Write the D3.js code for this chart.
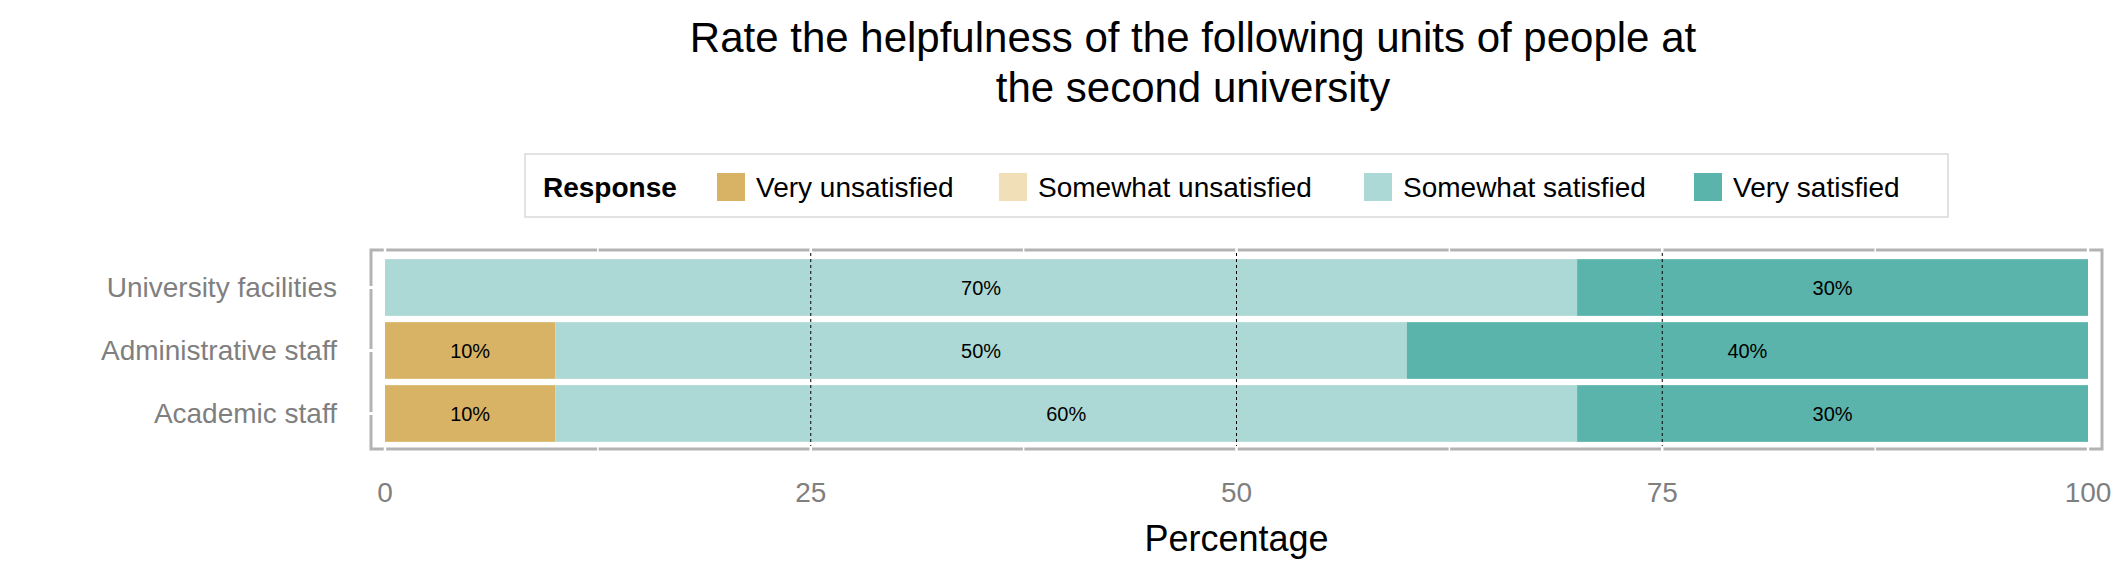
<!DOCTYPE html>
<html><head><meta charset="utf-8">
<script src="https://cdn.jsdelivr.net/npm/d3@7"></script>
<style>body{margin:0;background:#fff}text{font-family:"Liberation Sans",Arial,sans-serif}</style>
</head><body><div id="chart"></div>
<script>
const categories = ['University facilities', 'Administrative staff', 'Academic staff']
const responses = ['Very unsatisfied', 'Somewhat unsatisfied', 'Somewhat satisfied', 'Very satisfied']
const colors = ['#d8b365', '#f0dfb7', '#acd9d5', '#5ab4ac']
const veryUnsat = [0, 10, 10]
const somewhatUnsat = [0, 0, 0]
const somewhatSat = [70, 50, 60]
const verySat = [30, 40, 30]
const xTicks = [0, 25, 50, 75, 100]

const W = 2125, H = 578
const svg = d3.select('#chart').append('svg').attr('width', W).attr('height', H)

const series = [veryUnsat, somewhatUnsat, somewhatSat, verySat]
const rows = categories.map((c, i) => {
    const r = {cat: c}
    responses.forEach((k, j) => r[k] = series[j][i])
    return r
})
const stack = d3.stack().keys(responses)(rows)

const x = d3.scaleLinear().domain([0, 100]).range([385, 2088])
const y = d3.scaleBand().domain(categories).range([256, 445]).paddingInner(0.1).paddingOuter(0.05)

// Panel border
svg.append('rect').attr('x', 371).attr('y', 250).attr('width', 1731).attr('height', 199)
    .attr('fill', 'none').attr('stroke', '#b3b3b3').attr('stroke-width', 3)

// White grid (major + minor), breaks the border like ggplot
const grid = d3.range(0, 101, 12.5)
svg.selectAll('.grid').data(grid).join('line')
    .attr('x1', d => x(d)).attr('x2', d => x(d)).attr('y1', 246).attr('y2', 453)
    .attr('stroke', '#fff').attr('stroke-width', d => d % 25 === 0 ? 2.5 : 1.5)
categories.forEach(c => {
    const cy = y(c) + y.bandwidth() / 2
    svg.append('line').attr('x1', 367).attr('x2', 375).attr('y1', cy).attr('y2', cy)
        .attr('stroke', '#fff').attr('stroke-width', 3)
})

// Bars
stack.forEach((s, j) => {
    svg.selectAll('.b' + j).data(s).join('rect')
        .attr('x', d => x(d[0])).attr('width', d => x(d[1]) - x(d[0]))
        .attr('y', d => y(d.data.cat)).attr('height', y.bandwidth())
        .attr('fill', colors[j])
    svg.selectAll('.l' + j).data(s.filter(d => d[1] - d[0] > 0)).join('text')
        .attr('x', d => x((d[0] + d[1]) / 2)).attr('y', d => y(d.data.cat) + y.bandwidth() / 2)
        .attr('text-anchor', 'middle').attr('dominant-baseline', 'central')
        .attr('font-size', 20).text(d => (d[1] - d[0]) + '%')
})

// Dashed reference lines
svg.selectAll('.ref').data([25, 50, 75]).join('line')
    .attr('x1', d => x(d)).attr('x2', d => x(d)).attr('y1', 253).attr('y2', 446)
    .attr('stroke', '#000').attr('stroke-width', 1).attr('stroke-dasharray', '3,3')

// Y labels
svg.selectAll('.yl').data(categories).join('text')
    .attr('x', 337).attr('y', d => y(d) + y.bandwidth() / 2)
    .attr('text-anchor', 'end').attr('dominant-baseline', 'central')
    .attr('font-size', 28).attr('fill', '#7f7f7f').text(d => d)

// X ticks
svg.selectAll('.xt').data(xTicks).join('text')
    .attr('x', d => x(d)).attr('y', 492).attr('text-anchor', 'middle').attr('dominant-baseline', 'central')
    .attr('font-size', 28).attr('fill', '#7f7f7f').text(d => d)

svg.append('text').attr('x', x(50)).attr('y', 538).attr('text-anchor', 'middle')
    .attr('dominant-baseline', 'central').attr('font-size', 36).text('Percentage')

// Title
const title = svg.append('text').attr('x', 1193).attr('text-anchor', 'middle').attr('font-size', 42)
title.append('tspan').attr('x', 1193).attr('y', 52).text('Rate the helpfulness of the following units of people at')
title.append('tspan').attr('x', 1193).attr('y', 102).text('the second university')

// Legend
svg.append('rect').attr('x', 525).attr('y', 154).attr('width', 1423).attr('height', 63)
    .attr('fill', '#fff').attr('stroke', '#d9d9d9').attr('stroke-width', 1.5)
svg.append('text').attr('x', 543).attr('y', 187).attr('dominant-baseline', 'central')
    .attr('font-size', 28).attr('font-weight', 'bold').text('Response')
const legX = [717, 999, 1364, 1694]
responses.forEach((r, i) => {
    svg.append('rect').attr('x', legX[i]).attr('y', 173).attr('width', 28).attr('height', 28).attr('fill', colors[i])
    svg.append('text').attr('x', legX[i] + 39).attr('y', 187).attr('dominant-baseline', 'central')
        .attr('font-size', 28).text(r)
})
</script></body></html>
